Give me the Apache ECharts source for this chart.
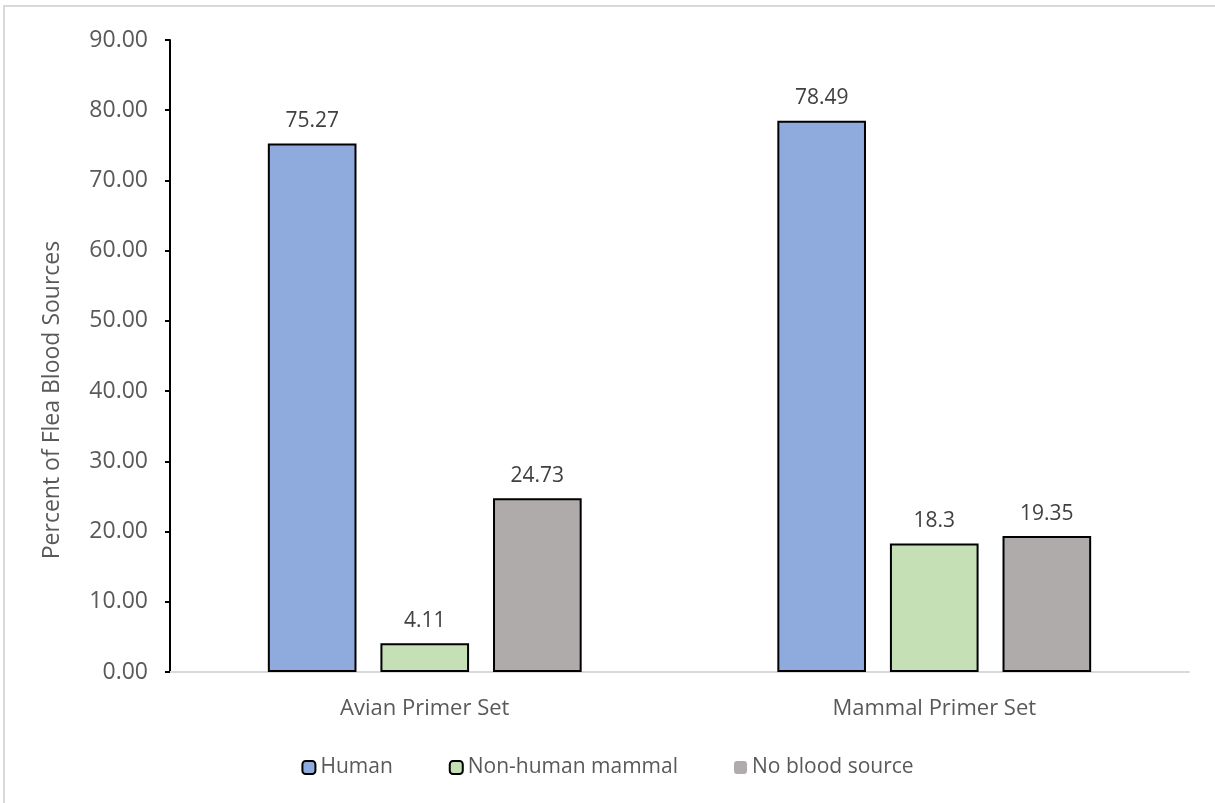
<!DOCTYPE html>
<html>
<head>
<meta charset="utf-8">
<script src="https://cdn.jsdelivr.net/npm/echarts@6/dist/echarts.min.js"></script>
<style>
  html, body { margin: 0; padding: 0; background: #fff; }
  .frame {
    position: absolute; left: 3px; top: 5px; width: 1240px; height: 830px;
    border-top: 2px solid #d9d9d9; border-left: 2px solid #d9d9d9;
  }
  #main { position: absolute; left: 0; top: 0; width: 1215px; height: 803px; }
</style>
</head>
<body>
<div class="frame"></div>
<div id="main"></div>
<script>
// chart data
var categories = ['Avian Primer Set', 'Mammal Primer Set'];
var human = [75.27, 78.49];
var nonHuman = [4.11, 18.3];
var noBlood = [24.73, 19.35];
var yTicks = [0, 10, 20, 30, 40, 50, 60, 70, 80, 90];

var myChart = echarts.init(document.getElementById('main'));
var font = 'Open Sans, Noto Sans, sans-serif';

var labelCfg = {
    show: true,
    position: 'top',
    distance: 12,
    color: '#404040',
    fontSize: 21,
    fontFamily: font
};

function barSeries(name, data, color) {
    return {
        name: name,
        type: 'bar',
        data: data,
        barWidth: '17.4%',
        barGap: '27%',
        itemStyle: {
            color: color,
            borderColor: '#000',
            borderWidth: 2
        },
        label: labelCfg
    };
}

var option = {
    animation: false,
    grid: { left: 170, right: 26, top: 40, bottom: 131 },
    legend: {
        top: 752,
        left: 'center',
        itemWidth: 13,
        itemHeight: 13,
        itemGap: 56,
        textStyle: { color: '#595959', fontSize: 21, fontFamily: font },
        data: [
            { name: 'Human', itemStyle: { borderColor: '#000', borderWidth: 2 } },
            { name: 'Non-human mammal', itemStyle: { borderColor: '#000', borderWidth: 2 } },
            { name: 'No blood source', itemStyle: { borderWidth: 0 } }
        ]
    },
    xAxis: {
        type: 'category',
        data: categories,
        axisLine: { lineStyle: { color: '#d9d9d9', width: 2 } },
        axisTick: { show: false },
        axisLabel: { color: '#595959', fontSize: 22, fontFamily: font, margin: 26 }
    },
    yAxis: {
        type: 'value',
        min: 0,
        max: 90,
        interval: 10,
        name: 'Percent of Flea Blood Sources',
        nameLocation: 'middle',
        nameGap: 106,
        nameTextStyle: { color: '#595959', fontSize: 23, fontFamily: font, padding: [0, 0, 0, -88] },
        axisLine: { show: true, lineStyle: { color: '#000', width: 2 } },
        axisTick: { show: true, length: 5, lineStyle: { color: '#000', width: 2 } },
        splitLine: { show: false },
        axisLabel: {
            color: '#595959', fontSize: 23, fontFamily: font, margin: 22,
            formatter: function (v) { return yTicks.indexOf(v) >= 0 ? v.toFixed(2) : ''; }
        }
    },
    series: [
        barSeries('Human', human, '#8faadc'),
        barSeries('Non-human mammal', nonHuman, '#c5e0b4'),
        barSeries('No blood source', noBlood, '#afabab')
    ]
};

option && myChart.setOption(option);
window.onresize = myChart.resize;
</script>
</body>
</html>
